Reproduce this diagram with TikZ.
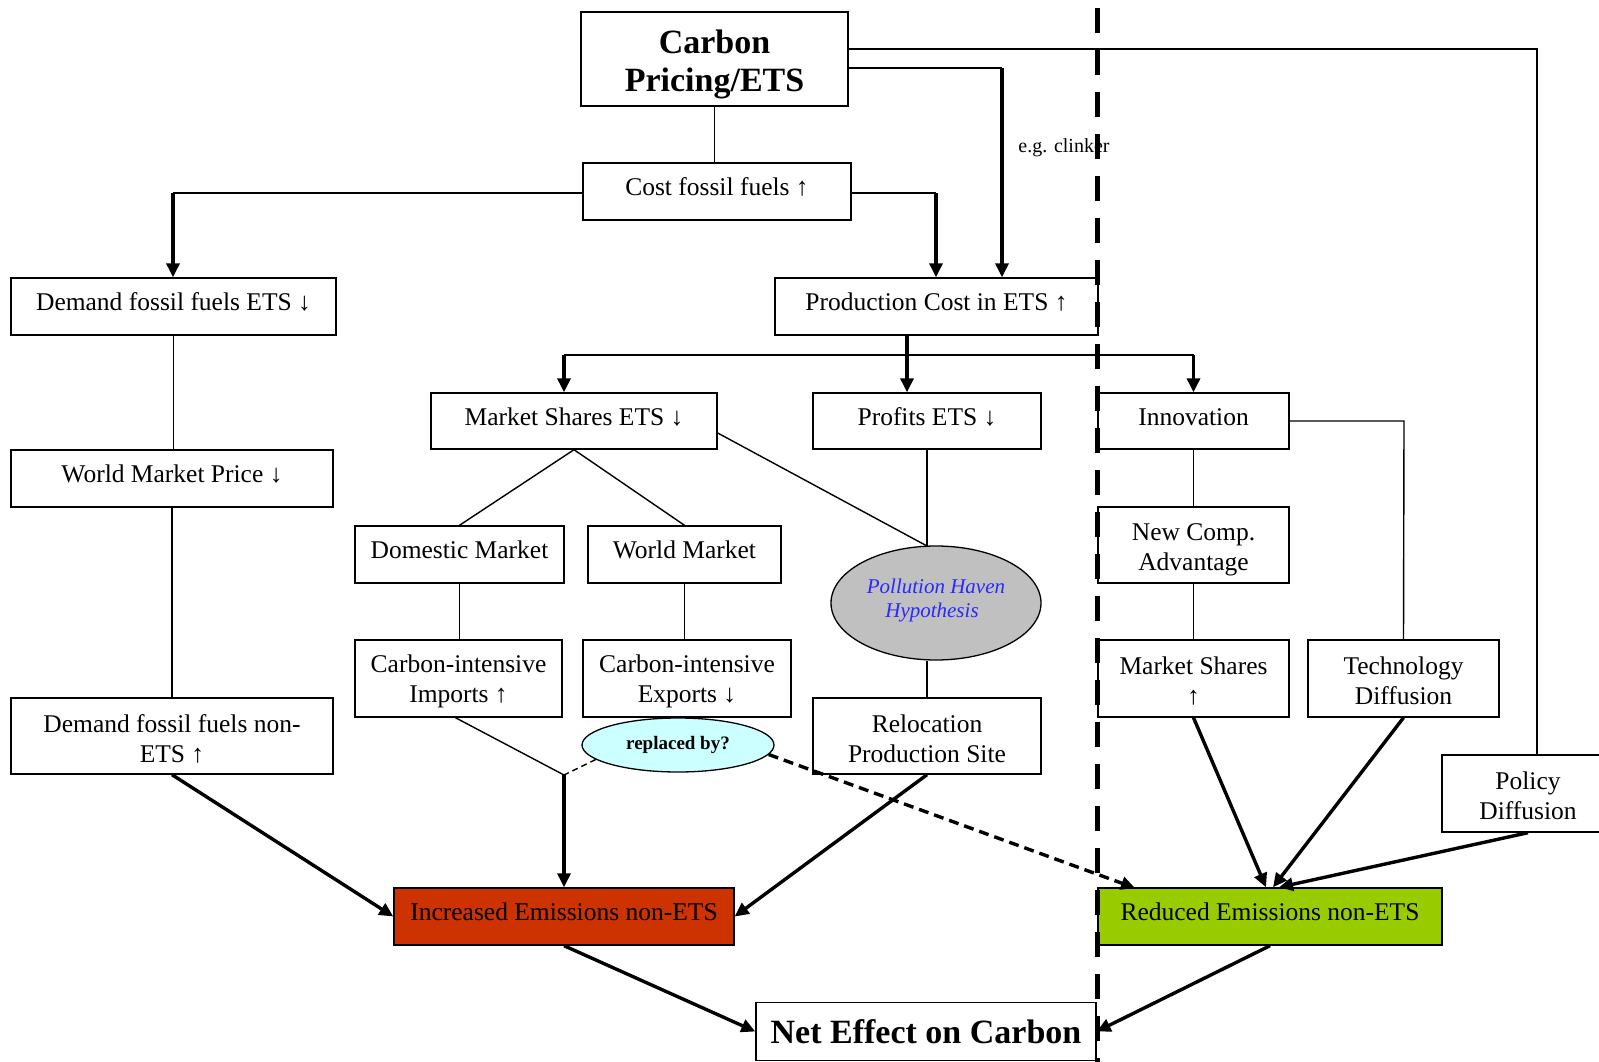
\documentclass[tikz,border=0pt]{standalone}
\usepackage{fontspec}
\setmainfont{Liberation Serif}
\usetikzlibrary{arrows.meta,shapes.geometric}
\definecolor{incred}{RGB}{204,51,0}
\definecolor{redgreen}{RGB}{153,204,0}
\definecolor{phgray}{RGB}{192,192,192}
\definecolor{replcyan}{RGB}{204,255,255}
\definecolor{phblue}{RGB}{40,40,255}
\newcommand{\tp}{\rule{0pt}{23pt}}
\newcommand{\tpbig}{\rule{0pt}{35pt}}
\begin{document}
\begin{tikzpicture}[x=1pt,y=-1pt,
  box/.style={draw, line width=1.4pt, inner sep=0pt, align=center, font=\fontsize{25.5}{30}\selectfont},
  sl/.style={text height=18pt, text depth=9.5pt},
  bigbox/.style={box, font=\fontsize{34}{38}\selectfont\bfseries},
  ell/.style={draw, ellipse, line width=1.3pt, inner sep=0pt, align=center},
  thinln/.style={line width=1.4pt},
  thk/.style={line width=3.4pt, -{Triangle[length=14pt,width=13pt]}},
]
\useasboundingbox (0,0) rectangle (1599,1062);

% nodes
\node[bigbox, minimum width=267pt, minimum height=94pt] (carbon) at (714.5,59) {\tpbig Carbon\\Pricing/ETS};
\node[box, sl, minimum width=268pt, minimum height=57pt] (cost) at (717,191.5) {Cost fossil fuels ↑};
\node[box, sl, minimum width=325pt, minimum height=57pt] (dets) at (173.5,306.5) {Demand fossil fuels ETS ↓};
\node[box, sl, minimum width=323pt, minimum height=57pt] (prod) at (936.5,306.5) {Production Cost in ETS ↑};
\node[box, sl, minimum width=286pt, minimum height=56pt] (msets) at (574,421) {Market Shares ETS ↓};
\node[box, sl, minimum width=228pt, minimum height=56pt] (profits) at (927,421) {Profits ETS ↓};
\node[box, sl, minimum width=191pt, minimum height=56pt] (innov) at (1193.5,421) {Innovation};
\node[box, sl, minimum width=322pt, minimum height=57pt] (wmp) at (172,478.5) {World Market Price ↓};
\node[box, sl, minimum width=209pt, minimum height=57pt] (dom) at (459.5,554.5) {Domestic Market};
\node[box, sl, minimum width=193pt, minimum height=57pt] (wm) at (684.5,554.5) {World Market};
\node[box, minimum width=191pt, minimum height=76pt] (newcomp) at (1193.5,545) {\rule{0pt}{26pt}New Comp.\\Advantage};
\node[ell, fill=phgray, minimum width=210pt, minimum height=114pt,
      font=\fontsize{21}{24}\selectfont\itshape, text=phblue] (phh) at (936,603) {Pollution Haven\\Hypothesis\hspace*{8pt}\rule[-9pt]{0pt}{9pt}};
\node[box, minimum width=207pt, minimum height=77pt] (imports) at (458.5,678.5) {\tp Carbon-intensive\\Imports ↑};
\node[box, minimum width=208pt, minimum height=77pt] (exports) at (687,678.5) {\tp Carbon-intensive\\Exports ↓};
\node[box, minimum width=191pt, minimum height=77pt] (mshup) at (1193.5,678.5) {\tp Market Shares\\↑};
\node[box, minimum width=191pt, minimum height=77pt] (tech) at (1403.5,678.5) {\tp Technology\\Diffusion};
\node[box, minimum width=322pt, minimum height=76pt] (dnets) at (172,736) {\tp Demand fossil fuels non-\\ETS ↑};
\node[box, minimum width=228pt, minimum height=76pt] (reloc) at (927,736) {\tp Relocation\\Production Site};
\node[ell, fill=replcyan, minimum width=192pt, minimum height=54pt,
      font=\fontsize{19}{22}\selectfont\bfseries] (repl) at (678,745) {replaced by?};
\node[box, minimum width=172pt, minimum height=77pt] (policy) at (1528,793.5) {\tp Policy\\Diffusion};
\node[box, sl, fill=incred, minimum width=340pt, minimum height=57pt] (incr) at (564,916.5) {Increased Emissions non-ETS};
\node[box, sl, fill=redgreen, minimum width=344pt, minimum height=57pt] (red) at (1270,916.5) {Reduced Emissions non-ETS};
\node[bigbox, minimum width=340pt, minimum height=58pt] (net) at (926,1031.5) {Net Effect on Carbon};
\node[font=\fontsize{20}{22}\selectfont] (clinker) at (1064,148) {e.g. clinker};

% connectors from Carbon Pricing
\draw[thinln] (carbon.south) -- (carbon.south |- cost.north);
\coordinate (c1) at (1002,68);
\draw[thinln] (carbon.east |- c1) -- (c1);
\draw[thk] (c1) -- (c1 |- prod.north);
\coordinate (c2) at (1537,49);
\draw[thinln] (carbon.east |- c2) -- (c2) -- (c2 |- policy.north);

% from cost fossil fuels
\coordinate (c3) at (173,193);
\draw[thinln] (cost.west |- c3) -- (c3);
\draw[thk] (c3) -- (c3 |- dets.north);
\coordinate (c4) at (936,193);
\draw[line width=1.8pt] (cost.east |- c4) -- (c4);
\draw[thk] (c4) -- (c4 |- prod.north);

% from production cost
\coordinate (c5) at (907,355);
\coordinate (c6) at (564,355);
\coordinate (c7) at (1193.5,355);
\draw[line width=1.8pt] (c6) -- (c7);
\draw[thk] (c5 |- prod.south) -- (c5 |- profits.north);
\draw[thk] (c6) -- (c6 |- msets.north);
\draw[thk] (c7) -- (innov.north);

% left column
\draw[thinln] (dets.south) -- (dets.south |- wmp.north);
\draw[thinln] (wmp.south) -- (wmp.south |- dnets.north);
\draw[thk] (dnets.south) -- (incr.west);

% market shares branch
\draw[thinln] (msets.south) -- (dom.north);
\draw[thinln] (msets.south) -- (wm.north);
\coordinate (phtop) at (927,546);
\draw[thinln] ([yshift=-12pt]msets.east) -- (phtop);
\draw[thinln] (profits.south) -- (phtop);
\draw[thinln] (reloc.north |- phh.south) -- (reloc.north);
\draw[thinln] (dom.south) -- (dom.south |- imports.north);
\draw[thinln] (wm.south) -- (wm.south |- exports.north);
\coordinate (J) at (564,775);
\draw[thinln] ([xshift=-3pt]imports.south) -- (J);
\draw[line width=1.4pt, dash pattern=on 6pt off 4pt] (repl.190) -- (J);
\draw[thk] (J) -- (J |- incr.north);
\coordinate (redin) at (1135,888);
\draw[thk, dash pattern=on 10pt off 6pt] (repl.-6) -- (redin);
\draw[thk] (reloc.south) -- (incr.east);

% innovation branch
\draw[thinln] (innov.south) -- (newcomp.north);
\coordinate (c8) at (1404,421);
\draw[thinln] (innov.east) -- (c8) -- (tech.north);
\draw[thinln] (newcomp.south) -- (mshup.north);
\draw[thk] (mshup.south) -- ([xshift=-4pt]red.north);
\draw[thk] (tech.south) -- ([xshift=3pt]red.north);
\draw[thk] (policy.south) -- ([xshift=9pt]red.north);

% to net effect
\draw[thk] (incr.south) -- (net.west);
\draw[thk] (red.south) -- (net.east);

% ETS border
\draw[line width=5pt, dash pattern=on 25pt off 17pt] (1097,8) -- (1097,1062);
\end{tikzpicture}
\end{document}
